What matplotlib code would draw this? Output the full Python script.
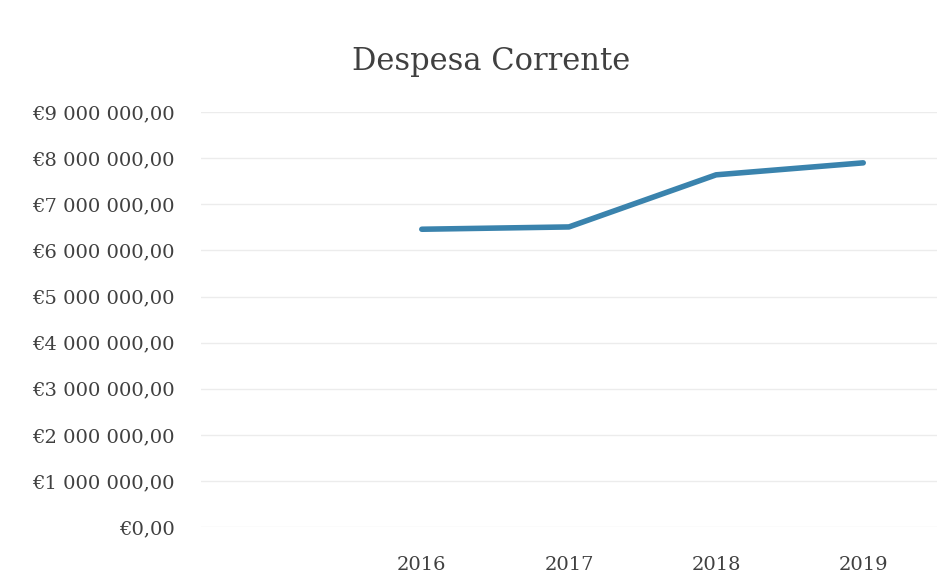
import matplotlib
matplotlib.use('Agg')
import matplotlib.pyplot as plt
from matplotlib.ticker import FuncFormatter, MultipleLocator

# Values (euros)
years = ['2016', '2017', '2018', '2019']
despesa = [6460000, 6510000, 7640000, 7900000]

text_color = '#404040'
line_color = '#3a83ad'


def euro_fmt(v, pos):
    s = f'{v:,.2f}'.replace(',', ' ').replace('.', ',')
    return '€' + s


plt.rcParams['font.family'] = ['DejaVu Serif']

fig = plt.figure(figsize=(9.53, 5.87), dpi=100)
ax = fig.add_axes([0.211, 0.102, 0.772, 0.707])

# first category slot is left empty, as in the original
xs = list(range(1, len(years) + 1))
ax.plot(xs, despesa, color=line_color, linewidth=4, solid_capstyle='round',
        solid_joinstyle='round')

ax.set_xlim(-0.5, 4.5)
ax.set_ylim(0, 9000000)
ax.yaxis.set_major_locator(MultipleLocator(1000000))
ax.yaxis.set_major_formatter(FuncFormatter(euro_fmt))
ax.set_xticks(xs)
ax.set_xticklabels(years)

ax.grid(axis='y', color='#ececec', linewidth=1)
ax.set_axisbelow(True)
for side in ['top', 'right', 'left', 'bottom']:
    ax.spines[side].set_visible(False)
ax.tick_params(length=0, colors=text_color, labelsize=14)
ax.tick_params(axis='y', pad=19)
ax.tick_params(axis='x', pad=21)

fig.text(0.515, 0.895, 'Despesa Corrente', ha='center', va='center',
         fontsize=22, color=text_color)

fig.savefig('out.png', dpi=100)
